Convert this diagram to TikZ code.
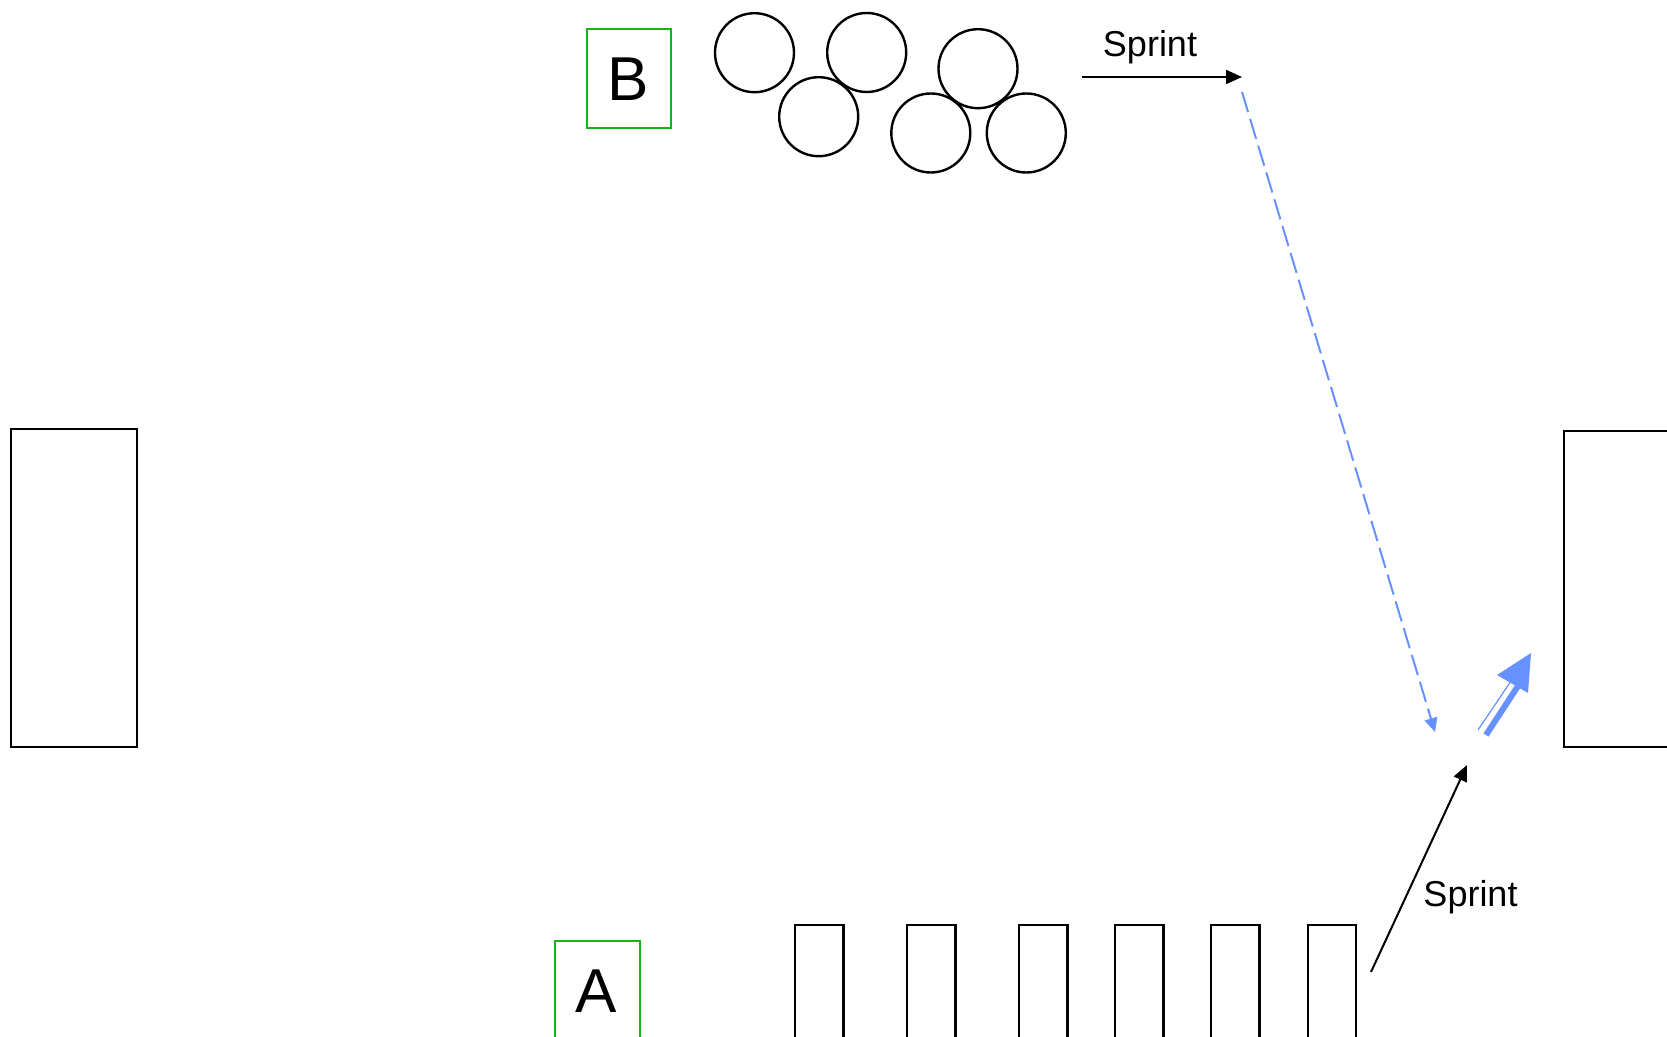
\documentclass[tikz,border=0pt]{standalone}
\usepackage{fontspec}
\setmainfont{Liberation Sans}
\usetikzlibrary{arrows.meta}
\definecolor{fieldgreen}{RGB}{20,180,20}
\definecolor{passblue}{RGB}{102,145,255}
\tikzset{
  box/.style={draw=black, line width=1.2pt, fill=none, inner sep=0pt, anchor=north west},
  gbox/.style={draw=fieldgreen, line width=1.2pt, inner sep=0pt, anchor=north west},
  cone/.style={circle, draw=black, line width=1.2pt, minimum size=39.5pt, inner sep=0pt},
  lbl/.style={font=\fontsize{18pt}{20pt}\selectfont, anchor=base, inner sep=0pt},
  biglbl/.style={font=\fontsize{31pt}{34pt}\selectfont, anchor=base, inner sep=0pt},
  run/.style={draw=black, line width=1pt, -{Triangle[length=8pt,width=7pt]}},
  pass/.style={draw=passblue, line width=1pt, dash pattern=on 10.5pt off 3.5pt, -{Triangle[length=7pt,width=6.5pt]}},
}
\begin{document}
\begin{tikzpicture}[x=0.5pt, y=-0.5pt]
\useasboundingbox (0,0) rectangle (1667,1037);
\begin{scope}
\clip (0,0) rectangle (1667,1037);
% goals
\node[box, minimum width=63pt, minimum height=159pt] (goalL) at (10,428) {};
\node[box, minimum width=63pt, minimum height=158pt] (goalR) at (1563,430) {};
% bottom players
\node[box, minimum width=24.2pt, minimum height=77pt] (p1) at (794,924) {};
\node[box, minimum width=24.2pt, minimum height=77pt] (p2) at (906,924) {};
\node[box, minimum width=24.2pt, minimum height=77pt] (p3) at (1018,924) {};
\node[box, minimum width=24.2pt, minimum height=77pt] (p4) at (1114,924) {};
\node[box, minimum width=24.2pt, minimum height=77pt] (p5) at (1210,924) {};
\node[box, minimum width=24.2pt, minimum height=77pt] (p6) at (1306.5,924) {};
% green labels
\node[gbox, minimum width=42pt, minimum height=49.5pt] (boxB) at (586,28) {};
\node[biglbl] (labB) at (628,101) {B};
\node[gbox, minimum width=42.5pt, minimum height=49.5pt] (boxA) at (554,940) {};
\node[biglbl] (labA) at (596.5,1012) {A};
\end{scope}
% circles
\node[cone] (c1) at (754.5,52.7) {};
\node[cone] (c2) at (866.7,52.5) {};
\node[cone] (c3) at (978,68.7) {};
\node[cone] (c4) at (818.7,116.7) {};
\node[cone] (c5) at (930.8,133) {};
\node[cone] (c6) at (1026.3,133) {};
% top sprint
\coordinate (s1a) at (1082,77);
\coordinate (s1b) at (1242,77);
\draw[run] (s1a) -- (s1b);
\node[lbl] (t1) at (1150,57) {Sprint};
% pass (dashed blue)
\coordinate (pa) at (1242,92);
\coordinate (pb) at (1435,732);
\draw[pass] (pa) -- (pb);
% bottom sprint
\coordinate (s2a) at (1371,972);
\coordinate (s2b) at (1467,765);
\draw[run] (s2a) -- (s2b);
\node[lbl] (t2) at (1470.5,906.7) {Sprint};
% shot (double blue arrow)
\coordinate (ta1) at (1478,730);
\coordinate (ta2) at (1511,681);
\coordinate (tb1) at (1486,735);
\coordinate (tb2) at (1518,686);
\coordinate (h1) at (1531,653);
\coordinate (h2) at (1497,675);
\coordinate (h3) at (1528,693);
\draw[passblue, line width=0.6pt] (ta1) -- (ta2);
\draw[passblue, line width=3pt] (tb1) -- (tb2);
\fill[passblue] (h1) -- (h2) -- (h3) -- cycle;
\end{tikzpicture}
\end{document}
